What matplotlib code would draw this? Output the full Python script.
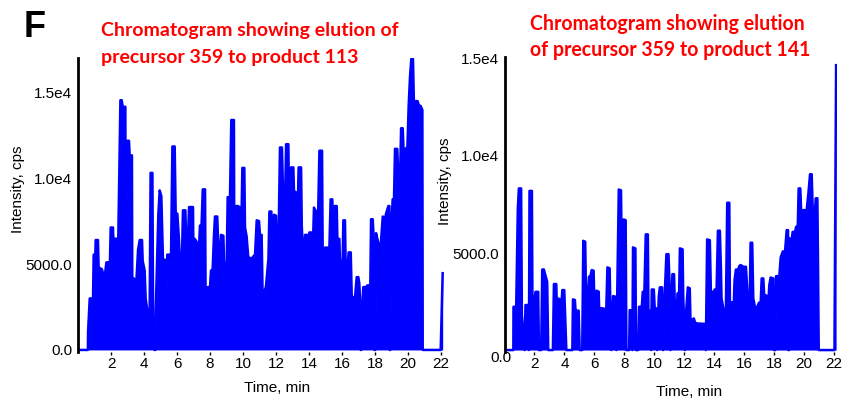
import matplotlib
matplotlib.use("Agg")
import matplotlib.pyplot as plt

# chromatogram 359 -> 113 (time in min, intensity in cps)
t113 = [0.00, 0.60, 0.61, 0.71, 0.91, 0.95, 1.05, 1.07, 1.21, 1.25, 1.45, 1.52, 1.58, 1.72, 1.86,
        1.92, 1.98, 2.12, 2.14, 2.32, 2.38, 2.44, 2.57, 2.65, 2.71, 2.87, 2.89, 2.99, 3.09, 3.13,
        3.27, 3.29, 3.39, 3.54, 3.64, 3.74, 3.88, 3.92, 4.04, 4.10, 4.24, 4.34, 4.40, 4.51, 4.55,
        4.63, 4.69, 4.71, 4.81, 4.87, 4.95, 5.05, 5.15, 5.29, 5.31, 5.41, 5.56, 5.62, 5.72, 5.86,
        5.92, 6.02, 6.12, 6.26, 6.36, 6.51, 6.59, 6.73, 6.97, 6.99, 7.07, 7.19, 7.27, 7.39, 7.49,
        7.56, 7.70, 7.74, 7.86, 8.00, 8.06, 8.16, 8.24, 8.30, 8.44, 8.50, 8.57, 8.67, 8.81, 8.85,
        9.01, 9.07, 9.21, 9.29, 9.45, 9.47, 9.58, 9.72, 9.76, 9.82, 9.92, 9.96, 10.08, 10.12, 10.22,
        10.32, 10.42, 10.44, 10.51, 10.63, 10.73, 10.83, 10.97, 11.03, 11.13, 11.19, 11.27, 11.39,
        11.54, 11.60, 11.72, 11.76, 11.88, 12.00, 12.06, 12.14, 12.24, 12.36, 12.44, 12.55, 12.61,
        12.75, 12.81, 12.91, 13.05, 13.09, 13.19, 13.25, 13.37, 13.52, 13.56, 13.66, 13.76, 13.90,
        13.94, 14.02, 14.16, 14.22, 14.30, 14.55, 14.63, 14.79, 14.83, 14.97, 15.11, 15.17, 15.23,
        15.31, 15.41, 15.47, 15.56, 15.68, 15.72, 15.84, 15.88, 15.98, 16.04, 16.08, 16.18, 16.24,
        16.32, 16.40, 16.53, 16.59, 16.79, 16.89, 16.99, 17.05, 17.11, 17.13, 17.17, 17.25, 17.29,
        17.45, 17.54, 17.66, 17.70, 17.76, 17.86, 17.90, 17.96, 18.02, 18.06, 18.20, 18.26, 18.36,
        18.47, 18.61, 18.67, 18.81, 18.87, 18.89, 18.93, 18.97, 19.07, 19.15, 19.21, 19.35, 19.41,
        19.52, 19.58, 19.68, 19.76, 19.88, 19.96, 20.04, 20.12, 20.20, 20.30, 20.36, 20.46, 20.58,
        20.65, 20.77, 20.87, 20.89, 21.98, 22.10]
i113 = [0, 0, 1060, 3000, 3000, 5550, 5550, 6400, 6400, 4800, 4700, 4450, 3950, 5100, 5100,
        4450, 7130, 7130, 6480, 6480, 6000, 6480, 14540, 14540, 14160, 14160, 4620, 12180, 12180, 11330,
        11330, 3470, 4160, 4050, 5840, 6400, 6400, 5190, 4620, 3000, 2020, 2050, 10310, 10310, 2030,
        0, 0, 2300, 5900, 7940, 9290, 8960, 5250, 5250, 1350, 5550, 5550, 4100, 11850, 11850,
        7940, 7940, 6400, 3470, 8130, 8130, 4470, 8320, 8320, 5890, 6470, 6300, 4530, 7230, 7320,
        9350, 9350, 1930, 3660, 3660, 4620, 4700, 6650, 7770, 7770, 6030, 5250, 6700, 6650, 5100,
        4950, 8900, 8870, 13390, 13390, 6400, 8380, 8380, 6180, 8290, 8290, 10600, 10600, 7150, 6600,
        5360, 5360, 3470, 5300, 5450, 5550, 7550, 7500, 6650, 6700, 2990, 3300, 3700,
        5300, 8060, 8060, 5240, 7870, 7820, 5420, 5680, 11790, 11790, 8710, 8710, 11980,
        11980, 6070, 10630, 10630, 9200, 9200, 5240, 10630, 10630, 7290, 4970, 6700, 6700,
        5550, 6840, 6840, 5550, 8290, 7840, 11600, 11600, 5420, 5960, 5960, 5090, 5790,
        8770, 8770, 7360, 8380, 8380, 6470, 6470, 5090, 5180, 5180, 7550, 7550, 3660,
        4530, 5680, 5680, 3080, 3080, 4240, 4240, 3850, 2500, 0, 0, 3000, 3660,
        3660, 3760, 3760, 2500, 7610, 7610, 6880, 0, 0, 6800, 6240, 5260, 6300,
        7770, 7650, 7940, 8380, 8380, 0, 0, 6940, 8770, 8770, 11710, 11710, 10120,
        10120, 12910, 12910, 10890, 11750, 11750, 14260, 15900, 16950, 16950, 14260, 14490, 14490,
        14260, 14200, 13970, 0, 0, 4470]

# chromatogram 359 -> 141
t141 = [0.00, 0.59, 0.60, 0.78, 0.89, 0.96, 1.11, 1.16, 1.23, 1.34, 1.40, 1.56, 1.63, 1.67, 1.83,
        1.87, 1.96, 2.07, 2.25, 2.30, 2.45, 2.52, 2.63, 2.70, 2.85, 2.92, 3.23, 3.30, 3.46, 3.50,
        3.57, 3.68, 3.75, 3.86, 3.99, 4.04, 4.13, 4.53, 4.57, 4.70, 4.77, 4.84, 4.95, 5.02, 5.19,
        5.26, 5.39, 5.46, 5.57, 5.64, 5.73, 5.82, 5.95, 6.02, 6.13, 6.29, 6.35, 6.42, 6.58, 6.71,
        6.80, 6.87, 7.02, 7.09, 7.13, 7.25, 7.40, 7.47, 7.51, 7.63, 7.78, 7.83, 7.96, 8.09, 8.14,
        8.32, 8.36, 8.50, 8.54, 8.58, 8.74, 8.78, 8.92, 8.98, 9.07, 9.14, 9.23, 9.34, 9.43, 9.57,
        9.61, 9.74, 9.79, 9.83, 9.97, 10.03, 10.15, 10.19, 10.30, 10.37, 10.52, 10.59, 10.70, 10.81,
        10.95, 11.01, 11.08, 11.12, 11.21, 11.32, 11.39, 11.50, 11.55, 11.66, 11.71, 11.89, 11.93,
        12.04, 12.13, 12.24, 12.37, 12.42, 12.51, 12.64, 12.73, 12.86, 13.38, 13.44, 13.53, 13.71,
        13.78, 13.98, 14.03, 14.16, 14.25, 14.38, 14.45, 14.49, 14.61, 14.69, 14.78, 14.87, 15.01,
        15.05, 15.23, 15.28, 15.36, 15.45, 15.61, 15.67, 15.76, 15.90, 15.94, 16.01, 16.12, 16.21,
        16.34, 16.43, 16.54, 16.61, 16.72, 16.79, 16.88, 16.99, 17.10, 17.17, 17.28, 17.35, 17.44,
        17.55, 17.61, 17.68, 17.77, 17.95, 17.99, 18.08, 18.13, 18.35, 18.44, 18.58, 18.73, 18.84,
        18.93, 18.95, 19.00, 19.02, 19.17, 19.24, 19.40, 19.47, 19.58, 19.64, 19.75, 19.82, 19.95,
        20.07, 20.13, 20.29, 20.40, 20.51, 20.58, 20.69, 20.78, 20.89, 20.93, 20.98, 22.03, 22.14]
i141 = [0, 0, 2230, 2230, 7300, 8330, 8330, 1800, 1200, 0, 2320, 2320, 0, 8200, 8200,
        1720, 2400, 3000, 3000, 0, 0, 4150, 4150, 3940, 3520, 0, 0, 3400, 3400, 1890,
        2660, 2620, 1720, 3090, 3090, 2030, 0, 0, 2610, 2580, 1720, 2030, 2030, 0, 0,
        5630, 5580, 1720, 2920, 3780, 3780, 4120, 4090, 1630, 3060, 3010, 1200, 2150, 2150, 2030,
        2230, 4260, 4210, 1370, 0, 2780, 2750, 0, 2030, 8270, 8230, 4550, 6730, 6690, 0,
        0, 2060, 2030, 0, 5290, 5240, 0, 0, 2230, 2230, 1890, 3000, 3000, 5960, 5960,
        2030, 2030, 0, 3120, 3120, 2150, 2150, 0, 2750, 3230, 3230, 0, 2920, 4940,
        4940, 3600, 0, 1970, 3910, 3910, 1720, 1720, 2920, 2950, 5240, 5190, 2920,
        0, 2030, 3230, 3180, 1410, 1550, 1630, 1410, 1370, 1350, 0, 5700, 5660,
        3000, 3000, 3120, 3120, 6150, 6150, 4200, 2660, 2150, 1030, 2000, 7590, 7590,
        2490, 2440, 1720, 3600, 4150, 4150, 4320, 4380, 4320, 3090, 4290, 4290, 3090,
        690, 5530, 5530, 2660, 2230, 2060, 2230, 2440, 2330, 3690, 3690, 2660, 2830,
        2750, 2400, 3350, 3740, 3690, 0, 0, 3810, 3810, 4770, 5080, 5080, 6180,
        6180, 0, 0, 5750, 5700, 6090, 6090, 6350, 6350, 8330, 8330, 6870, 7210,
        7210, 6870, 8070, 9060, 9060, 7210, 6700, 7820, 7820, 4720, 0, 0, 14680]

yticks = [0, 5000, 10000, 15000]
ytick_labels = ["0.0", "5000.0", "1.0e4", "1.5e4"]
xticks = list(range(2, 23, 2))

blue = "#0000ff"
red = "#ff0000"
tickfont = "Liberation Sans"

fig = plt.figure(figsize=(8.43, 4.0), dpi=100)
ax1 = fig.add_axes([78 / 843, 48 / 400, 365.5 / 843, 294 / 400])
ax2 = fig.add_axes([504.5 / 843, 48 / 400, 332.5 / 843, 295 / 400])

panels = [(ax1, t113, i113, (-120, 17000), (0, 22.15), (-0.145, 0.554), (0.544, -0.099)),
          (ax2, t141, i141, (-100, 15100), (0, 22.2), (-0.158, 0.58), (0.556, -0.112))]

for ax, t, y, ylim, xlim, ylab_pos, xlab_pos in panels:
    ax.fill_between(t, y, 0, color=blue, lw=0)
    ax.plot(t, y, color=blue, lw=1.8)
    ax.set_ylim(*ylim)
    ax.set_xlim(*xlim)
    for s in ["top", "right", "bottom"]:
        ax.spines[s].set_visible(False)
    ax.spines["left"].set_linewidth(2.0)
    ax.spines["left"].set_color("black")
    ax.set_yticks(yticks)
    ax.set_xticks(xticks)
    ax.set_xticklabels([str(v) for v in xticks], fontsize=11, family=tickfont)
    ax.tick_params(axis="y", length=0, pad=4)
    ax.tick_params(axis="x", length=2, width=1, pad=1.5)
    ax.set_ylabel("Intensity, cps", fontsize=11, family=tickfont)
    ax.set_xlabel("Time, min", fontsize=11, family=tickfont)
    ax.yaxis.set_label_coords(*ylab_pos)
    ax.xaxis.set_label_coords(*xlab_pos)

ax1.set_yticklabels(ytick_labels, fontsize=11, family=tickfont)
ax2.set_yticklabels([""] + ytick_labels[1:], fontsize=11, family=tickfont)
fig.text(511 / 843, 1 - 358 / 400, "0.0", ha="right", va="center", fontsize=11, family=tickfont)

fig.text(24 / 843, 1 - 37 / 400, "F", fontsize=26, fontweight="bold", family=tickfont,
         va="baseline", ha="left")

# titles, size fitted to the width of the first line
renderer = fig.canvas.get_renderer()
titles = [(101, 36, 62.7, "Chromatogram showing elution of", "precursor 359 to product 113", 298),
          (530, 30, 56, "Chromatogram showing elution", "of precursor 359 to product 141", 275.7)]
for x0, b1, b2, l1, l2, target in titles:
    t1 = fig.text(x0 / 843, 1 - b1 / 400, l1, color=red, fontsize=14, fontweight="bold",
                  family="Lato", va="baseline", ha="left")
    w = t1.get_window_extent(renderer).width
    fs = 14 * target / w
    t1.set_fontsize(fs)
    fig.text(x0 / 843, 1 - b2 / 400, l2, color=red, fontsize=fs, fontweight="bold",
             family="Lato", va="baseline", ha="left")

fig.savefig("out.png", dpi=100)
